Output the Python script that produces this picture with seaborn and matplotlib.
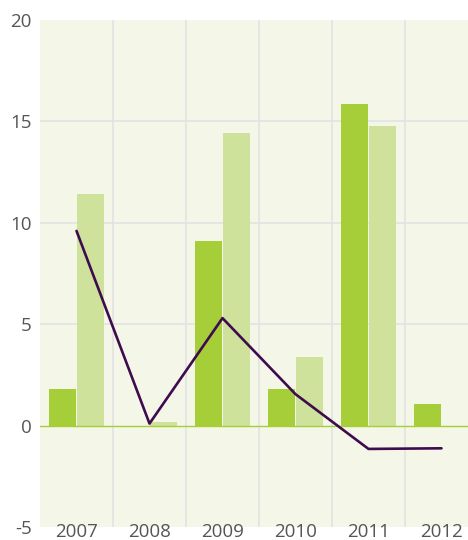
import numpy as np
import pandas as pd
import matplotlib
matplotlib.use("Agg")
import matplotlib.pyplot as plt
import seaborn as sns

# Data
years = ["2007", "2008", "2009", "2010", "2011", "2012"]
series_a = [1.8, 0.0, 9.1, 1.8, 15.85, 1.05]
series_b = [11.4, 0.2, 14.45, 3.4, 14.75, 0.0]
line_vals = [9.6, 0.1, 5.3, 1.55, -1.15, -1.12]

df = pd.DataFrame({
    "year": years * 2,
    "value": series_a + series_b,
    "series": ["A"] * len(years) + ["B"] * len(years),
})

sns.set_style("white")
plt.rcParams["font.family"] = ["Open Sans", "DejaVu Sans"]
plt.rcParams["axes.unicode_minus"] = False

fig = plt.figure(figsize=(4.68, 5.4), dpi=100)
ax = fig.add_axes([40 / 468, 13 / 540, 438 / 468, 507 / 540])
ax.set_facecolor("#f4f7e8")

sns.barplot(data=df, x="year", y="value", hue="series",
            palette=["#a6ce39", "#cfe29b"], saturation=1,
            width=0.77, gap=0.07, linewidth=0,
            legend=False, ax=ax, zorder=2)

sns.lineplot(x=np.arange(len(years)), y=line_vals, color="#3f0b4f",
             linewidth=1.9, ax=ax, zorder=4)

ax.axhline(0, color="#a6ce39", linewidth=1.0, zorder=3)

ax.set_xlim(-0.5, 5.5)
ax.set_ylim(-5, 20)
ax.set_yticks([-5, 0, 5, 10, 15, 20])
for y in [5, 10, 15]:
    ax.axhline(y, color="#e2e2e2", linewidth=1.2, zorder=1)
for x in np.arange(0.5, 5, 1):
    ax.axvline(x, color="#e2e2e2", linewidth=1.2, zorder=1)

for s in ax.spines.values():
    s.set_visible(False)

ax.set_xlabel("")
ax.set_ylabel("")
ax.tick_params(axis="both", length=0, labelsize=13.5, colors="#555555")
ax.tick_params(axis="x", pad=-3)
ax.tick_params(axis="y", pad=6)

fig.savefig("out.png", dpi=100)
